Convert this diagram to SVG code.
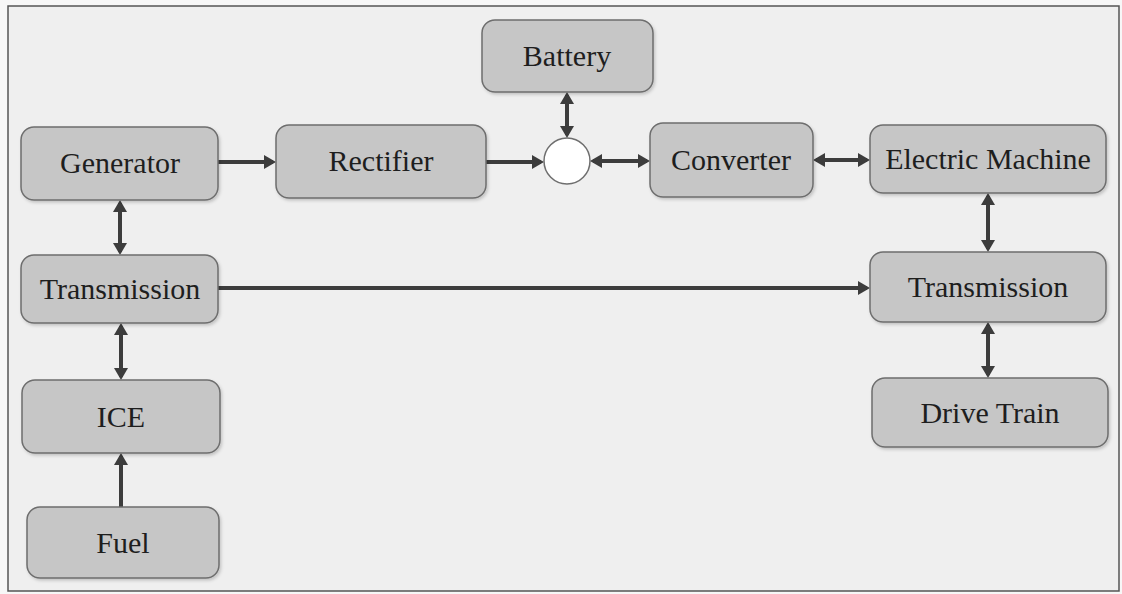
<svg xmlns="http://www.w3.org/2000/svg" width="1122" height="594" viewBox="0 0 1122 594">
  <style>
    .box { fill: #c6c6c6; stroke: #6e6e6e; stroke-width: 1.5; filter: url(#sh); }
    .lbl { font-family: "Liberation Serif", "Times New Roman", serif; font-size: 30px; fill: #1e1e1e; text-anchor: middle; }
    .con { stroke: #3c3c3c; stroke-width: 4; fill: none; }
  </style>
  <defs>
    <filter id="sh" x="-10%" y="-10%" width="125%" height="130%">
      <feDropShadow dx="1.5" dy="2" stdDeviation="1.5" flood-color="#000" flood-opacity="0.18"/>
    </filter>
    <marker id="ah" viewBox="0 0 12 14" refX="9" refY="7" markerWidth="12" markerHeight="14" markerUnits="userSpaceOnUse" orient="auto-start-reverse">
      <path d="M0,0 L12,7 L0,14 z" fill="#3c3c3c"/>
    </marker>
  </defs>
  <rect x="0" y="0" width="1122" height="594" fill="#f7f7f7"/>
  <rect x="8" y="6" width="1111" height="585" fill="#efefef" stroke="#555" stroke-width="1.5"/>

  <g id="connectors">
    <path class="con" d="M218,162 H273" marker-end="url(#ah)"/>
    <path class="con" d="M486,162 H541" marker-end="url(#ah)"/>
    <path class="con" d="M567,95 V135" marker-start="url(#ah)" marker-end="url(#ah)"/>
    <path class="con" d="M593,161 H647" marker-start="url(#ah)" marker-end="url(#ah)"/>
    <path class="con" d="M816,160 H867" marker-start="url(#ah)" marker-end="url(#ah)"/>
    <path class="con" d="M988,196 V249" marker-start="url(#ah)" marker-end="url(#ah)"/>
    <path class="con" d="M218,288 H867" marker-end="url(#ah)"/>
    <path class="con" d="M120,203 V252" marker-start="url(#ah)" marker-end="url(#ah)"/>
    <path class="con" d="M121,326 V377" marker-start="url(#ah)" marker-end="url(#ah)"/>
    <path class="con" d="M121,507 V456" marker-end="url(#ah)"/>
    <path class="con" d="M988,325 V375" marker-start="url(#ah)" marker-end="url(#ah)"/>
  </g>

  <g id="battery"><rect class="box" x="482" y="20" width="171" height="72" rx="13"/><text class="lbl" x="567" y="66">Battery</text></g>
  <g id="generator"><rect class="box" x="21" y="127" width="197" height="73" rx="13"/><text class="lbl" x="120" y="173">Generator</text></g>
  <g id="rectifier"><rect class="box" x="276" y="125" width="210" height="73" rx="13"/><text class="lbl" x="381" y="171">Rectifier</text></g>
  <g id="junction"><circle cx="567" cy="161" r="23" fill="#ffffff" stroke="#6e6e6e" stroke-width="1.5"/></g>
  <g id="converter"><rect class="box" x="650" y="123" width="163" height="74" rx="13"/><text class="lbl" x="731" y="170">Converter</text></g>
  <g id="electric-machine"><rect class="box" x="870" y="125" width="236" height="68" rx="13"/><text class="lbl" x="988" y="169">Electric Machine</text></g>
  <g id="transmission-left"><rect class="box" x="21" y="255" width="197" height="68" rx="13"/><text class="lbl" x="120" y="299">Transmission</text></g>
  <g id="transmission-right"><rect class="box" x="870" y="252" width="236" height="70" rx="13"/><text class="lbl" x="988" y="297">Transmission</text></g>
  <g id="ice"><rect class="box" x="22" y="380" width="198" height="73" rx="13"/><text class="lbl" x="121" y="427">ICE</text></g>
  <g id="drive-train"><rect class="box" x="872" y="378" width="236" height="69" rx="13"/><text class="lbl" x="990" y="423">Drive Train</text></g>
  <g id="fuel"><rect class="box" x="27" y="507" width="192" height="71" rx="13"/><text class="lbl" x="123" y="553">Fuel</text></g>
</svg>
